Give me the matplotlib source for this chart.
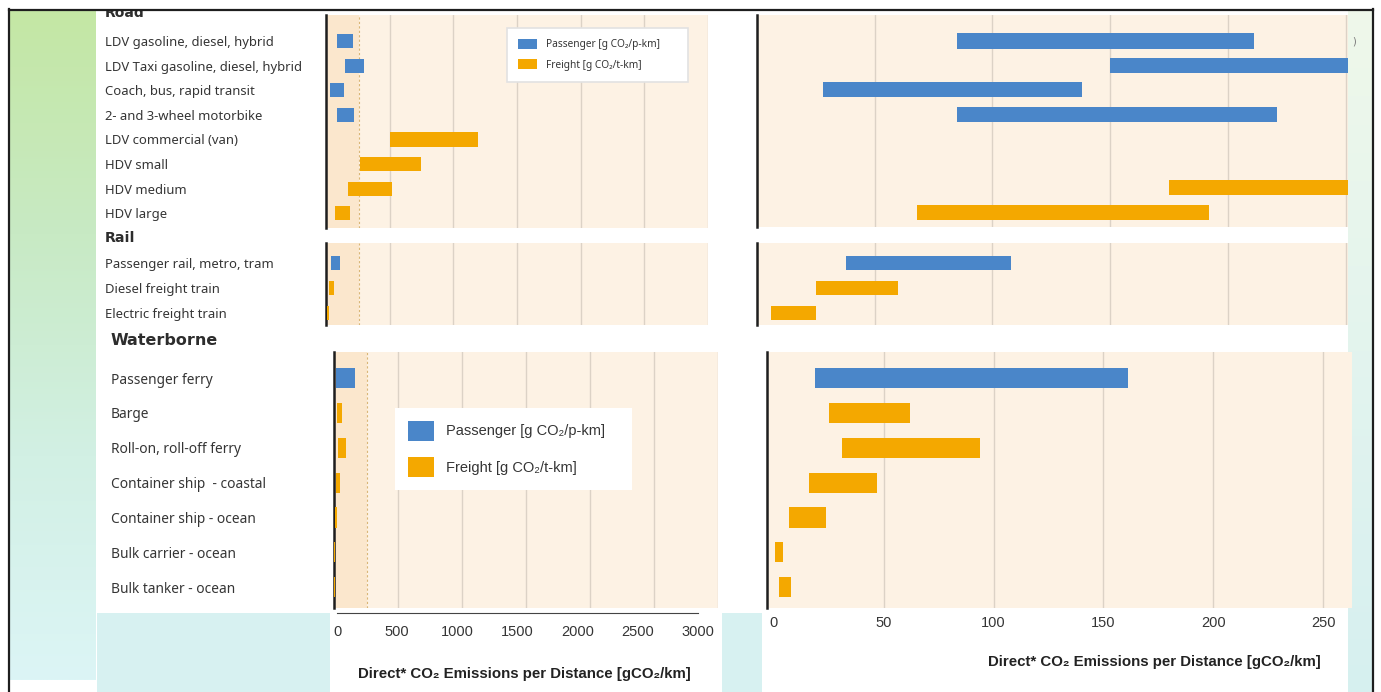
import numpy as np
import matplotlib
matplotlib.use("Agg")
import matplotlib.pyplot as plt
from matplotlib.patches import Patch, Rectangle
from matplotlib.colors import LinearSegmentedColormap

W, H = 1381, 692

# ---------------------------------------------------------------- data
road_labels = ["LDV gasoline, diesel, hybrid", "LDV Taxi gasoline, diesel, hybrid",
               "Coach, bus, rapid transit", "2- and 3-wheel motorbike",
               "LDV commercial (van)", "HDV small", "HDV medium", "HDV large"]
road_low = [85, 150, 28, 85, 500, 267, 175, 68]
road_high = [211, 300, 138, 221, 1190, 746, 520, 192]
road_kind = ["p", "p", "p", "p", "f", "f", "f", "f"]

rail_labels = ["Passenger rail, metro, tram", "Diesel freight train", "Electric freight train"]
rail_low = [38, 25, 6]
rail_high = [108, 60, 25]
rail_kind = ["p", "f", "f"]

water_labels = ["Passenger ferry", "Barge", "Roll-on, roll-off ferry",
                "Container ship  - coastal", "Container ship - ocean",
                "Bulk carrier - ocean", "Bulk tanker - ocean"]
water_low = [19, 25, 31, 16, 7, 0.5, 2.5]
water_high = [161, 62, 94, 47, 24, 4.3, 8]
water_kind = ["p", "f", "f", "f", "f", "f", "f"]

full_ticks = [0, 500, 1000, 1500, 2000, 2500, 3000]
zoom_ticks = [0, 50, 100, 150, 200, 250]
zoom_limit = 260

BLUE = "#4a86c9"
ORANGE = "#f4a800"
BEIGE = "#fdf2e4"
BAND = "#fbe7cd"
GRID = "#dcd2c6"
TEXT = "#353535"
COLORS = {"p": BLUE, "f": ORANGE}

XLABEL = "Direct* CO₂ Emissions per Distance [gCO₂/km]"
LEG_LABELS = ["Passenger [g CO₂/p-km]", "Freight [g CO₂/t-km]"]
NARROW = ["Liberation Sans Narrow", "Liberation Sans", "DejaVu Sans"]
LABEL_FONT = ["Noto Sans", "DejaVu Sans"]
TITLE_FONT = ["DejaVu Sans"]

fig = plt.figure(figsize=(W / 100, H / 100), dpi=100)


def px_rect(x0, y0, x1, y1):
    return [x0 / W, 1 - y1 / H, (x1 - x0) / W, (y1 - y0) / H]


# ---------------------------------------------------------------- page background
bg = fig.add_axes([0, 0, 1, 1], zorder=0)
grad = np.linspace(0, 1, 256).reshape(-1, 1)
left_cmap = LinearSegmentedColormap.from_list("lg", ["#c4e7a4", "#c8eac4", "#d2f0e4", "#dcf5f6"])
right_cmap = LinearSegmentedColormap.from_list("rg", ["#eff8ea", "#e3f4ee", "#d6f0f0"])
bg.imshow(grad, cmap=left_cmap, extent=(10, 96, 680, 10), aspect="auto")
bg.imshow(grad, cmap=right_cmap, extent=(1348, 1373, 692, 10), aspect="auto")
bg.add_patch(Rectangle((97, 613), 233, 79, fc="#d7f1f1", ec="none"))
bg.add_patch(Rectangle((722, 613), 40, 79, fc="#d7f1f1", ec="none"))
bg.text(1352, 41, ")", fontsize=7, color="#777777", va="center")
bg.set_xlim(0, W)
bg.set_ylim(H, 0)
bg.axis("off")


def draw_panel(rect, labels, low, high, kind, ylim, xlim, ticks, band=False,
               label_pad=None, label_size=9.4, bar_h=0.58, spine_x=None):
    ax = fig.add_axes(px_rect(*rect), zorder=1)
    ax.set_facecolor(BEIGE)
    y = np.arange(len(labels))
    widths = np.array(high) - np.array(low)
    ax.barh(y, widths, left=low, height=bar_h, color=[COLORS[k] for k in kind], zorder=3)
    if band:
        ax.axvspan(0, zoom_limit, color=BAND, zorder=0.2, lw=0)
        ax.axvline(zoom_limit, color="#d9b676", lw=0.8, ls=(0, (2, 2)), zorder=0.6)
    ax.set_xlim(*xlim)
    ax.set_ylim(*ylim)
    ax.set_xticks(ticks)
    ax.grid(axis="x", color=GRID, lw=1)
    ax.set_axisbelow(True)
    ax.tick_params(axis="x", length=0, labelbottom=False)
    for s in ["top", "right", "bottom"]:
        ax.spines[s].set_visible(False)
    ax.spines["left"].set_color("#1e1e1e")
    ax.spines["left"].set_linewidth(1.8)
    if spine_x is not None:
        ax.spines["left"].set_position(("data", spine_x))
    if label_pad is None:
        ax.set_yticks([])
    else:
        ax.set_yticks(y, labels)
        ax.tick_params(axis="y", length=0, pad=label_pad, labelsize=label_size,
                       labelcolor=TEXT)
        for t in ax.get_yticklabels():
            t.set_horizontalalignment("left")
            t.set_fontfamily(LABEL_FONT)
    return ax


# ---------------------------------------------------------------- full-range panels
road_L = draw_panel((326, 15, 708, 228), road_labels, road_low, road_high, road_kind,
                    (7.6, -1.06), (0, 3000), full_ticks, band=True, label_pad=159)
rail_L = draw_panel((326, 243, 708, 325), rail_labels, rail_low, rail_high, rail_kind,
                    (2.48, -0.8), (0, 3000), full_ticks, band=True, label_pad=159)
water_L = draw_panel((334, 352, 718, 608), water_labels, water_low, water_high, water_kind,
                     (6.6, -0.75), (0, 3000), full_ticks, band=True, label_pad=160.5,
                     label_size=9.9)

# ---------------------------------------------------------------- zoomed panels
road_R = draw_panel((757, 15, 1348, 227), road_labels, road_low, road_high, road_kind,
                    (7.6, -1.06), (0, 251), zoom_ticks, bar_h=0.62)
rail_R = draw_panel((757, 243, 1348, 325), rail_labels, rail_low, rail_high, rail_kind,
                    (2.48, -0.8), (0, 251), zoom_ticks)
water_R = draw_panel((767, 352, 1352, 608), water_labels, water_low, water_high, water_kind,
                     (6.6, -0.75), (-3, 263), zoom_ticks, spine_x=-3)
water_R.get_xgridlines()[0].set_visible(False)

# group titles
for ax, title, ypos, size, xpix in [(road_L, "Road", -1.15, 10, 105),
                                    (rail_L, "Rail", -1.0, 10.3, 105),
                                    (water_L, "Waterborne", -1.07, 11.5, 111)]:
    ax.annotate(title, xy=(xpix, ypos), xycoords=("figure pixels", "data"),
                va="center", ha="left", fontsize=size, fontweight="bold",
                color="#2d2d2d", family=TITLE_FONT, annotation_clip=False)

# ---------------------------------------------------------------- x scales
scale_L = fig.add_axes(px_rect(337, 611, 698, 613), zorder=1)
scale_L.set_facecolor("none")
scale_L.set_xlim(0, 3000)
scale_L.set_xticks(full_ticks)
scale_L.set_yticks([])
for s in ["top", "right", "left"]:
    scale_L.spines[s].set_visible(False)
scale_L.spines["bottom"].set_color("#444444")
scale_L.tick_params(axis="x", length=0, pad=9, labelsize=10.5, labelcolor=TEXT)
for t in scale_L.get_xticklabels():
    t.set_fontfamily(NARROW)
scale_L.set_xlabel(XLABEL, fontsize=10.8, fontweight="bold", color="#222222", family=NARROW)
scale_L.xaxis.set_label_coords(0.52, -30.5)
scale_L.xaxis.label.set_va("center")

water_R.tick_params(axis="x", labelbottom=True, pad=6, labelsize=10.5, labelcolor=TEXT)
for t in water_R.get_xticklabels():
    t.set_fontfamily(NARROW)
water_R.set_xlabel(XLABEL, fontsize=10.8, fontweight="bold", color="#222222", family=NARROW)
water_R.xaxis.set_label_coords(0.663, -0.211)
water_R.xaxis.label.set_va("center")

# ---------------------------------------------------------------- legends
handles = [Patch(fc=BLUE, ec="none"), Patch(fc=ORANGE, ec="none")]
small = road_L.legend(handles, LEG_LABELS, loc="upper left", mode="expand",
                      bbox_to_anchor=(0.474, 0.70, 0.474, 0.24), borderaxespad=0,
                      handlelength=1.9, handleheight=1.1, borderpad=1.1,
                      labelspacing=0.9, handletextpad=0.8, fancybox=False,
                      framealpha=1, edgecolor="#e2e2e2",
                      prop={"family": LABEL_FONT, "size": 7.3})
small.get_frame().set_linewidth(1.2)
for t in small.get_texts():
    t.set_color(TEXT)

big = water_L.legend(handles, LEG_LABELS, loc="upper left", mode="expand",
                     bbox_to_anchor=(0.159, 0.43, 0.617, 0.351), borderaxespad=0,
                     handlelength=1.8, handleheight=1.73, borderpad=0.86,
                     labelspacing=1.15, handletextpad=0.8, fancybox=False,
                     framealpha=1, edgecolor="none",
                     prop={"family": ["Liberation Sans", "DejaVu Sans"], "size": 10.5})
for t in big.get_texts():
    t.set_color(TEXT)

# ---------------------------------------------------------------- frame
fg = fig.add_axes([0, 0, 1, 1], zorder=10)
fg.set_facecolor("none")
fg.add_patch(Rectangle((0, 0), W, 9, fc="white", ec="none"))
fg.plot([9, 9], [9, H], color="#1e1e1e", lw=1.6)
fg.plot([9, 1373], [9.5, 9.5], color="#1e1e1e", lw=1.6)
fg.plot([1373, 1373], [9, H], color="#1e1e1e", lw=1.6)
fg.set_xlim(0, W)
fg.set_ylim(H, 0)
fg.axis("off")

fig.savefig("out.png", dpi=100, facecolor="white")
